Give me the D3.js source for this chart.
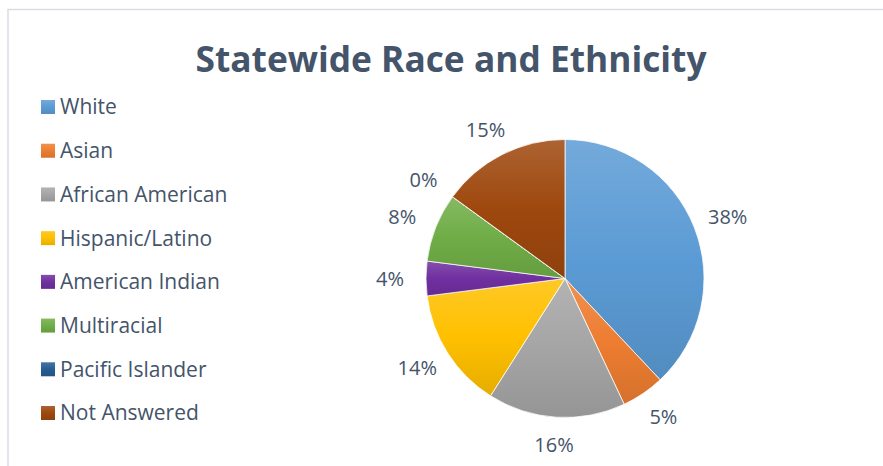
<!DOCTYPE html>
<html>
<head>
<meta charset="utf-8">
<script src="https://cdn.jsdelivr.net/npm/d3@7"></script>
<style>
  html, body { margin: 0; padding: 0; background: #fff; }
  svg { display: block; font-family: "Open Sans", sans-serif; }
</style>
</head>
<body>
<div id="chart"></div>
<script>
var width = 883, height = 466;

var title = "Statewide Race and Ethnicity";
var categories = ["White", "Asian", "African American", "Hispanic/Latino",
  "American Indian", "Multiracial", "Pacific Islander", "Not Answered"];
var values = [38, 5, 16, 14, 4, 8, 0, 15];
var colors = ["#5B9BD5", "#ED7D31", "#A5A5A5", "#FFC000",
  "#7030A0", "#70AD47", "#255E91", "#9E480E"];

var textColor = "#44546A";
var radius = 139;
var cx = 565, cy = 278.5;

var svg = d3.select("#chart")
  .append("svg")
  .attr("width", width)
  .attr("height", height);

// chart frame
svg.append("rect")
  .attr("x", 8)
  .attr("y", 9.5)
  .attr("width", width)
  .attr("height", height)
  .attr("fill", "none")
  .attr("stroke", "#D9DEE5")
  .attr("stroke-width", 1.5);

// gradients, lighter on top, darker at bottom
var defs = svg.append("defs");
colors.forEach(function(c, i) {
  var g = defs.append("linearGradient")
    .attr("id", "grad" + i)
    .attr("x1", 0).attr("y1", 0)
    .attr("x2", 0).attr("y2", 1);
  g.append("stop").attr("offset", "0%")
    .attr("stop-color", d3.interpolateRgb(c, "#fff")(0.15));
  g.append("stop").attr("offset", "50%").attr("stop-color", c);
  g.append("stop").attr("offset", "100%")
    .attr("stop-color", d3.interpolateRgb(c, "#000")(0.1));
});

svg.append("text")
  .attr("x", 451)
  .attr("y", 72)
  .attr("text-anchor", "middle")
  .attr("fill", textColor)
  .style("font-size", "35.3px")
  .style("font-weight", "bold")
  .text(title);

// legend
var legendY = d3.scalePoint()
  .domain(categories)
  .range([107, 413]);

var legend = svg.append("g").attr("class", "legend")
  .selectAll("g")
  .data(categories)
  .enter()
  .append("g")
  .attr("transform", function(d) { return "translate(41," + legendY(d) + ")"; });

legend.append("rect")
  .attr("x", 0)
  .attr("y", -7)
  .attr("width", 14)
  .attr("height", 14)
  .attr("fill", function(d, i) { return "url(#grad" + i + ")"; });

legend.append("text")
  .attr("x", 19)
  .attr("y", 0)
  .attr("dy", "0.35em")
  .attr("fill", textColor)
  .style("font-size", "21px")
  .text(function(d) { return d; });

// pie
var pie = d3.pie().sort(null).value(function(d) { return d; });
var arc = d3.arc().innerRadius(0).outerRadius(radius);
var arcs = pie(values);

var pieG = svg.append("g")
  .attr("transform", "translate(" + cx + "," + cy + ")");

pieG.selectAll("path")
  .data(arcs)
  .enter()
  .append("path")
  .attr("d", arc)
  .attr("fill", function(d, i) { return "url(#grad" + i + ")"; })
  .attr("stroke", "#fff")
  .attr("stroke-width", 0.75);

// outside-end labels
var gap = 18, halfW = 18, halfH = 10;
pieG.selectAll("text")
  .data(arcs)
  .enter()
  .append("text")
  .attr("x", function(d) {
    var a = (d.startAngle + d.endAngle) / 2;
    return (radius + gap) * Math.sin(a) + halfW * Math.sin(a);
  })
  .attr("y", function(d) {
    var a = (d.startAngle + d.endAngle) / 2;
    return -(radius + gap) * Math.cos(a) - halfH * Math.cos(a);
  })
  .attr("dy", "0.35em")
  .attr("text-anchor", "middle")
  .attr("fill", textColor)
  .style("font-size", "20px")
  .text(function(d) { return d.data + "%"; });
</script>
</body>
</html>
